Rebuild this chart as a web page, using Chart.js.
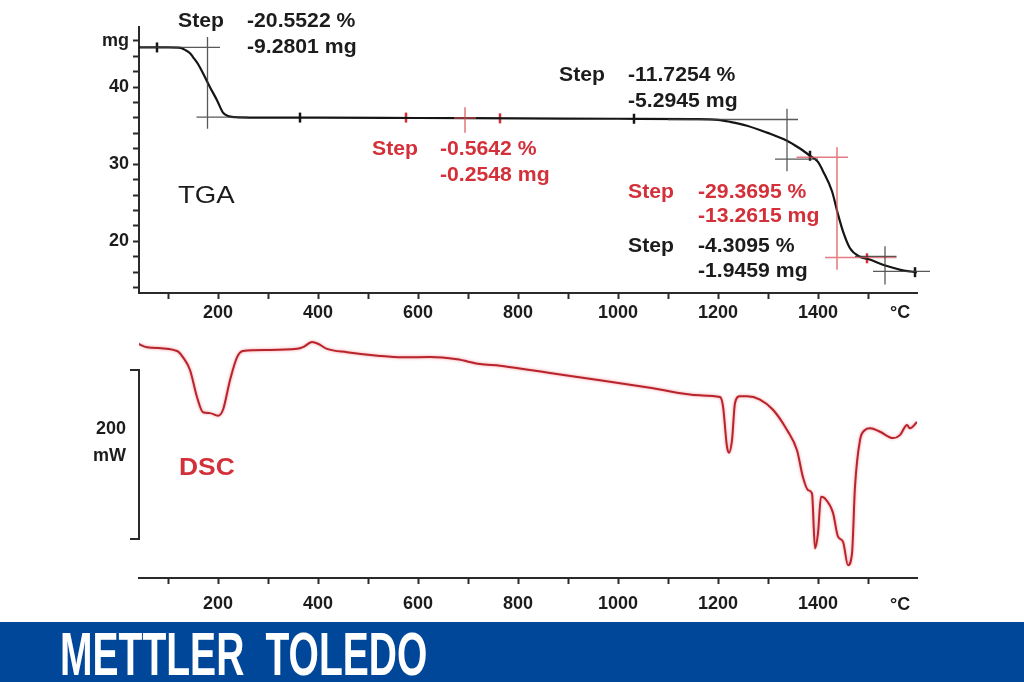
<!DOCTYPE html>
<html>
<head>
<meta charset="utf-8">
<script src="https://cdn.jsdelivr.net/npm/chart.js@4/dist/chart.umd.min.js"></script>
<style>
    body { margin: 0; background: #ffffff; }
    #page { position: relative; width: 1024px; height: 682px; overflow: hidden; background: #ffffff; }
    canvas { position: absolute; left: 0; }
    #tgaChart { top: 0; }
    #dscChart { top: 322px; }
    .lbl {
        position: absolute;
        font: bold 20px "Liberation Sans", Arial, sans-serif;
        line-height: 22px;
        white-space: nowrap;
        color: #1c1c1c;
        transform-origin: left top;
    }
    .wide { transform: scaleX(1.06); }
    .red { color: #d3303a; }
    .right { text-align: right; }
    #footer {
        position: absolute; left: 0; top: 622px; width: 1024px; height: 60px;
        background: #00479a;
    }
    #brand {
        position: absolute; left: 60px; top: 2px;
        font: bold 61px "Liberation Sans", Arial, sans-serif;
        line-height: 61px;
        color: #ffffff;
        white-space: nowrap;
        word-spacing: 16px;
        transform: scaleX(0.64);
        transform-origin: left top;
    }
</style>
</head>
<body>
<div id="page">
    <canvas id="tgaChart" width="1024" height="322"></canvas>
    <canvas id="dscChart" width="1024" height="300"></canvas>

    <div class="lbl wide" style="left:178px;top:9px">Step</div>
    <div class="lbl wide" style="left:247px;top:9px">-20.5522 %</div>
    <div class="lbl wide" style="left:247px;top:35px">-9.2801 mg</div>

    <div class="lbl wide" style="left:559px;top:63px">Step</div>
    <div class="lbl wide" style="left:628px;top:63px">-11.7254 %</div>
    <div class="lbl wide" style="left:628px;top:89px">-5.2945 mg</div>

    <div class="lbl wide red" style="left:372px;top:137px">Step</div>
    <div class="lbl wide red" style="left:440px;top:137px">-0.5642 %</div>
    <div class="lbl wide red" style="left:440px;top:163px">-0.2548 mg</div>

    <div class="lbl wide red" style="left:628px;top:180px">Step</div>
    <div class="lbl wide red" style="left:698px;top:180px">-29.3695 %</div>
    <div class="lbl wide red" style="left:698px;top:204px">-13.2615 mg</div>

    <div class="lbl wide" style="left:628px;top:234px">Step</div>
    <div class="lbl wide" style="left:698px;top:234px">-4.3095 %</div>
    <div class="lbl wide" style="left:698px;top:259px">-1.9459 mg</div>

    <div class="lbl" style="left:178px;top:181px;font-size:24px;font-weight:normal;line-height:28px;transform:scaleX(1.15)">TGA</div>
    <div class="lbl red" style="left:179px;top:453px;font-size:24px;line-height:28px;transform:scaleX(1.1)">DSC</div>

    <div class="lbl right" style="left:60px;width:66px;top:417px;font-size:18px">200</div>
    <div class="lbl right" style="left:60px;width:66px;top:444px;font-size:18px">mW</div>

    <div class="lbl" style="left:890px;top:301px;font-size:18px">°C</div>
    <div class="lbl" style="left:890px;top:593px;font-size:18px">°C</div>

    <div id="footer"><div id="brand">METTLER TOLEDO</div></div>
</div>

<script>
// ---- data ----
const tgaTemp = [42, 100, 125, 135, 144, 150, 160, 170, 184, 198, 210, 220, 235, 260, 400, 600, 800, 1000, 1150, 1200, 1224, 1258, 1298, 1338, 1360, 1384, 1400, 1410, 1428, 1440, 1450, 1464, 1484, 1500, 1538, 1572, 1598];
const tgaMass = [45.15, 45.15, 45.1, 44.8, 44.4, 43.9, 43.0, 41.8, 40.0, 38.3, 36.7, 36.25, 36.1, 36.05, 36.05, 36.0, 35.95, 35.9, 35.85, 35.75, 35.5, 35.0, 34.1, 33.05, 32.2, 31.1, 30.3, 29.1, 26.5, 23.5, 21.3, 19.1, 18.0, 17.7, 16.8, 16.2, 16.0];

// evaluation marks on the TGA curve
const markTemp = [78, 364, 576, 764, 1032, 1384, 1498, 1594];
const markMass = [45.15, 36.05, 36.05, 35.95, 35.9, 31.1, 17.8, 16.0];
const markRed = [false, false, true, true, false, false, true, false];

// step construction lines: [x1, y1, x2, y2]
const blackGuides = [
    [44, 45.15, 204, 45.15],
    [179, 46.5, 179, 34.6],
    [157, 36.1, 260, 36.1],
    [1100, 35.8, 1360, 35.8],
    [1338, 37.2, 1338, 29.1],
    [1314, 30.66, 1400, 30.66],
    [1534, 19.35, 1534, 14.4],
    [1474, 18.05, 1557, 18.05],
    [1510, 16.1, 1624, 16.1]
];
const redGuides = [
    [694, 37.4, 694, 34.1],
    [672, 36.0, 716, 36.0],
    [1438, 32.2, 1438, 16.3],
    [1357, 30.9, 1460, 30.9],
    [1414, 17.9, 1557, 17.9]
];

const dscTemp = [40, 58, 118, 130, 144, 158, 170, 184, 200, 210, 224, 238, 250, 298, 358, 370, 388, 400, 418, 458, 524, 570, 624, 678, 724, 764, 824, 864, 964, 1064, 1164, 1204, 1210, 1218, 1222, 1228, 1234, 1244, 1258, 1284, 1310, 1338, 1358, 1370, 1380, 1388, 1394, 1400, 1406, 1414, 1430, 1440, 1450, 1460, 1468, 1474, 1484, 1494, 1504, 1524, 1550, 1564, 1578, 1584, 1598];
const dscHeat = [31, 27, 22.5, 15, 0, -32, -50, -51, -54, -47, -12, 15, 22.5, 23.7, 25, 27, 33, 31, 25, 21, 16.6, 15, 15.4, 12.6, 7, 5, 0, -3.5, -12, -21, -30, -32, -43, -91, -98, -83, -39, -31, -31, -35, -47, -71, -95, -127, -142, -146, -211, -193, -150, -152, -169, -197, -203, -231, -217, -138, -83, -71, -69, -73, -80.5, -77, -65, -69, -61.5];

// axes
const tempTicks = [100, 200, 300, 400, 500, 600, 700, 800, 900, 1000, 1100, 1200, 1300, 1400, 1500];
const tempTickLabels = ['', '200', '', '400', '', '600', '', '800', '', '1000', '', '1200', '', '1400', ''];
const massTicks = [14, 16, 18, 20, 22, 24, 26, 28, 30, 32, 34, 36, 38, 40, 42, 44, 46];
const massTickLabels = ['', '', '', '20', '', '', '', '', '30', '', '', '', '', '40', '', '', 'mg'];
const scaleBarMw = [0, -200];

const axisColor = "#2a2a2a";
const tickFont = { family: "'Liberation Sans', Arial, sans-serif", size: 18, weight: 'bold' };

function toPoints(xs, ys) {
    return xs.map((x, i) => ({ x: x, y: ys[i] }));
}

function guidePoints(segs) {
    const pts = [];
    segs.forEach(s => {
        pts.push({ x: s[0], y: s[1] }, { x: s[2], y: s[3] }, { x: s[2], y: null });
    });
    return pts;
}

function tempAxis(labelPadding, height) {
    return {
        type: 'linear',
        min: 42,
        max: 1598,
        afterBuildTicks: (scale) => {
            scale.ticks = tempTicks.map(v => ({ value: v }));
        },
        afterFit: (scale) => {
            scale.height = height;
        },
        ticks: {
            autoSkip: false,
            maxRotation: 0,
            padding: labelPadding,
            color: "#1c1c1c",
            font: tickFont,
            callback: (value, index) => tempTickLabels[index]
        },
        grid: {
            drawOnChartArea: false,
            drawTicks: true,
            tickLength: 6,
            tickWidth: 2,
            tickColor: axisColor
        },
        border: { display: true, color: axisColor, width: 2 }
    };
}

// ---- TGA ----
const tgaCtx = document.getElementById("tgaChart").getContext("2d");

new Chart(tgaCtx, {
    type: 'line',
    data: {
        datasets: [
            {
                label: 'guides',
                data: guidePoints(blackGuides),
                borderColor: "rgba(60,60,60,0.85)",
                borderWidth: 1.3,
                pointRadius: 0,
                clip: false
            },
            {
                label: 'red guides',
                data: guidePoints(redGuides),
                borderColor: "rgba(222,80,90,0.75)",
                borderWidth: 1.6,
                pointRadius: 0,
                clip: false
            },
            {
                label: 'TGA',
                data: toPoints(tgaTemp, tgaMass),
                borderColor: "#151515",
                borderWidth: 2.2,
                pointRadius: 0,
                cubicInterpolationMode: 'monotone'
            },
            {
                label: 'marks',
                type: 'scatter',
                data: toPoints(markTemp, markMass),
                pointStyle: 'line',
                rotation: 90,
                pointRadius: 5,
                pointBorderWidth: 2.5,
                pointBorderColor: markRed.map(r => r ? "#d3303a" : "#151515")
            }
        ]
    },
    options: {
        responsive: false,
        animation: false,
        layout: { padding: { top: 27, right: 107, left: 0, bottom: 0 } },
        plugins: { legend: { display: false }, tooltip: { enabled: false } },
        scales: {
            x: tempAxis(3, 29),
            y: {
                type: 'linear',
                min: 13.3,
                max: 47.8,
                afterBuildTicks: (scale) => {
                    scale.ticks = massTicks.map(v => ({ value: v }));
                },
                afterFit: (scale) => {
                    scale.width = 139;
                },
                ticks: {
                    autoSkip: false,
                    padding: 4,
                    color: "#1c1c1c",
                    font: tickFont,
                    callback: (value, index) => massTickLabels[index]
                },
                grid: {
                    drawOnChartArea: false,
                    drawTicks: true,
                    tickLength: 6,
                    tickWidth: 2,
                    tickColor: axisColor
                },
                border: { display: true, color: axisColor, width: 2 }
            }
        }
    }
});

// ---- DSC ----
const dscCtx = document.getElementById("dscChart").getContext("2d");

new Chart(dscCtx, {
    type: 'line',
    data: {
        datasets: [{
            label: 'DSC',
            data: toPoints(dscTemp, dscHeat),
            borderColor: "#b8242c",
            borderWidth: 2,
            pointRadius: 0,
            cubicInterpolationMode: 'monotone'
        }]
    },
    options: {
        responsive: false,
        animation: false,
        layout: { padding: { top: 13, right: 107, left: 139, bottom: 0 } },
        plugins: { legend: { display: false }, tooltip: { enabled: false } },
        scales: {
            x: tempAxis(9, 44),
            y: {
                display: false,
                min: -246,
                max: 41.4
            }
        }
    },
    plugins: [{
        id: "redGlow",
        beforeDatasetsDraw: (chart) => {
            chart.ctx.shadowColor = "rgba(235,70,80,0.6)";
            chart.ctx.shadowBlur = 3;
        },
        afterDatasetsDraw: (chart) => {
            chart.ctx.shadowBlur = 0;
            chart.ctx.shadowColor = "transparent";
        }
    }, {
        id: "scaleBar",
        afterDraw: (chart) => {
            const ctx = chart.ctx;
            const y = chart.scales.y;
            const x0 = chart.chartArea.left;
            const top = y.getPixelForValue(scaleBarMw[0]);
            const bottom = y.getPixelForValue(scaleBarMw[1]);
            ctx.save();
            ctx.strokeStyle = axisColor;
            ctx.lineWidth = 2;
            ctx.beginPath();
            ctx.moveTo(x0 - 9, top);
            ctx.lineTo(x0, top);
            ctx.lineTo(x0, bottom);
            ctx.lineTo(x0 - 9, bottom);
            ctx.stroke();
            ctx.restore();
        }
    }]
});
</script>
</body>
</html>
